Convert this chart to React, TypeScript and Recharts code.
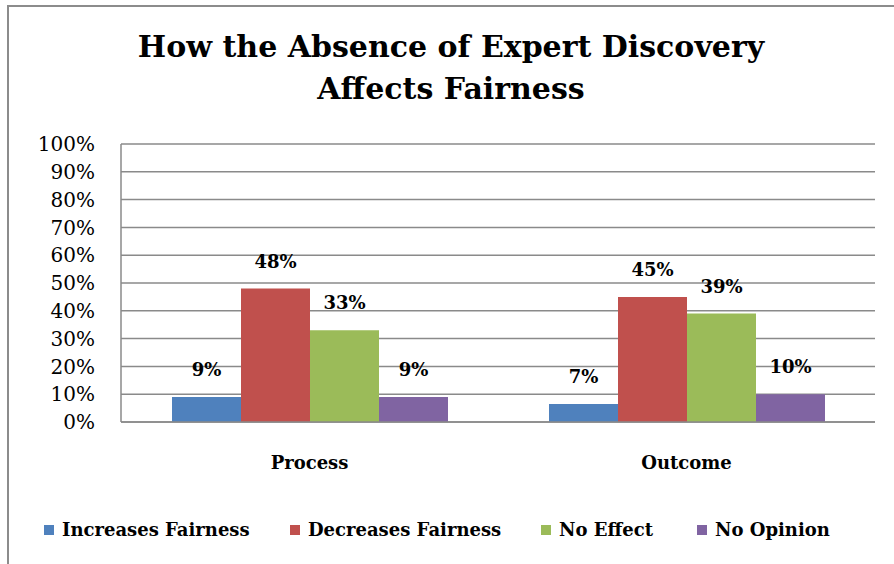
import React from "react"
import { Bar, BarChart, CartesianGrid, LabelList, XAxis, YAxis } from "recharts"

const categories = ["Process", "Outcome"]
const increases = [9, 6.5]
const decreases = [48, 45]
const noEffect = [33, 39]
const noOpinion = [9, 10]
const yTicks = [0, 10, 20, 30, 40, 50, 60, 70, 80, 90, 100]

const series = [
  { key: "increases", name: "Increases Fairness", color: "#4F81BD" },
  { key: "decreases", name: "Decreases Fairness", color: "#C0504D" },
  { key: "noEffect", name: "No Effect", color: "#9BBB59" },
  { key: "noOpinion", name: "No Opinion", color: "#8064A2" },
]

// legend item left edges
const legendX = [36, 282, 533, 689]

const data = categories.map((category, i) => ({
  category,
  increases: increases[i],
  decreases: decreases[i],
  noEffect: noEffect[i],
  noOpinion: noOpinion[i],
}))

const font = "DejaVu Serif"
const frame = "#8c8c8c"

export default function App() {
  return (
    <div style={{ position: "relative", width: 886, height: 548, fontFamily: font }}>
      <div style={{ position: "fixed", top: 5, left: 7, width: 887, height: 2, background: frame, zIndex: 2 }} />
      <div style={{ position: "fixed", top: 5, left: 7, width: 2, height: 559, background: frame, zIndex: 2 }} />
      <div
        style={{
          position: "absolute",
          top: 18,
          left: 0,
          width: 886,
          textAlign: "center",
          fontWeight: "bold",
          fontSize: 30,
          lineHeight: "42px",
          color: "#000",
        }}
      >
        How the Absence of Expert Discovery
        <br />
        Affects Fairness
      </div>
      <BarChart
        width={886}
        height={548}
        data={data}
        margin={{ top: 136, right: 19, left: 0, bottom: 74 }}
        barCategoryGap={51}
        barGap={0}
      >
        <CartesianGrid vertical={false} stroke="#8a8a8a" strokeWidth={1.5} />
        <XAxis
          dataKey="category"
          height={60}
          axisLine={{ stroke: "#8a8a8a", strokeWidth: 1.5 }}
          tickLine={false}
          tickSize={6}
          tickMargin={28}
          tick={{ fill: "#000", fontSize: 18, fontWeight: "bold", fontFamily: font }}
        />
        <YAxis
          width={113}
          domain={[0, 100]}
          ticks={yTicks}
          interval={0}
          tickFormatter={(v) => `${v}%`}
          axisLine={{ stroke: "#8a8a8a", strokeWidth: 1.5 }}
          tickLine={false}
          tickSize={6}
          tickMargin={20}
          tick={{ fill: "#000", fontSize: 20, fontFamily: font }}
        />
        {series.map((s) => (
          <Bar key={s.key} dataKey={s.key} name={s.name} fill={s.color} isAnimationActive={false}>
            <LabelList
              dataKey={s.key}
              position="top"
              offset={21}
              formatter={(v: number) => `${Math.round(v)}%`}
              style={{ fill: "#000", fontSize: 18, fontWeight: "bold", fontFamily: font }}
            />
          </Bar>
        ))}
      </BarChart>
      {series.map((s, i) => (
        <div
          key={s.key}
          style={{
            position: "absolute",
            top: 510,
            left: legendX[i],
            display: "flex",
            alignItems: "center",
            fontWeight: "bold",
            fontSize: 18,
            lineHeight: "24px",
            whiteSpace: "nowrap",
          }}
        >
          <span style={{ width: 10, height: 10, background: s.color, marginRight: 8 }} />
          <span>{s.name}</span>
        </div>
      ))}
    </div>
  )
}
